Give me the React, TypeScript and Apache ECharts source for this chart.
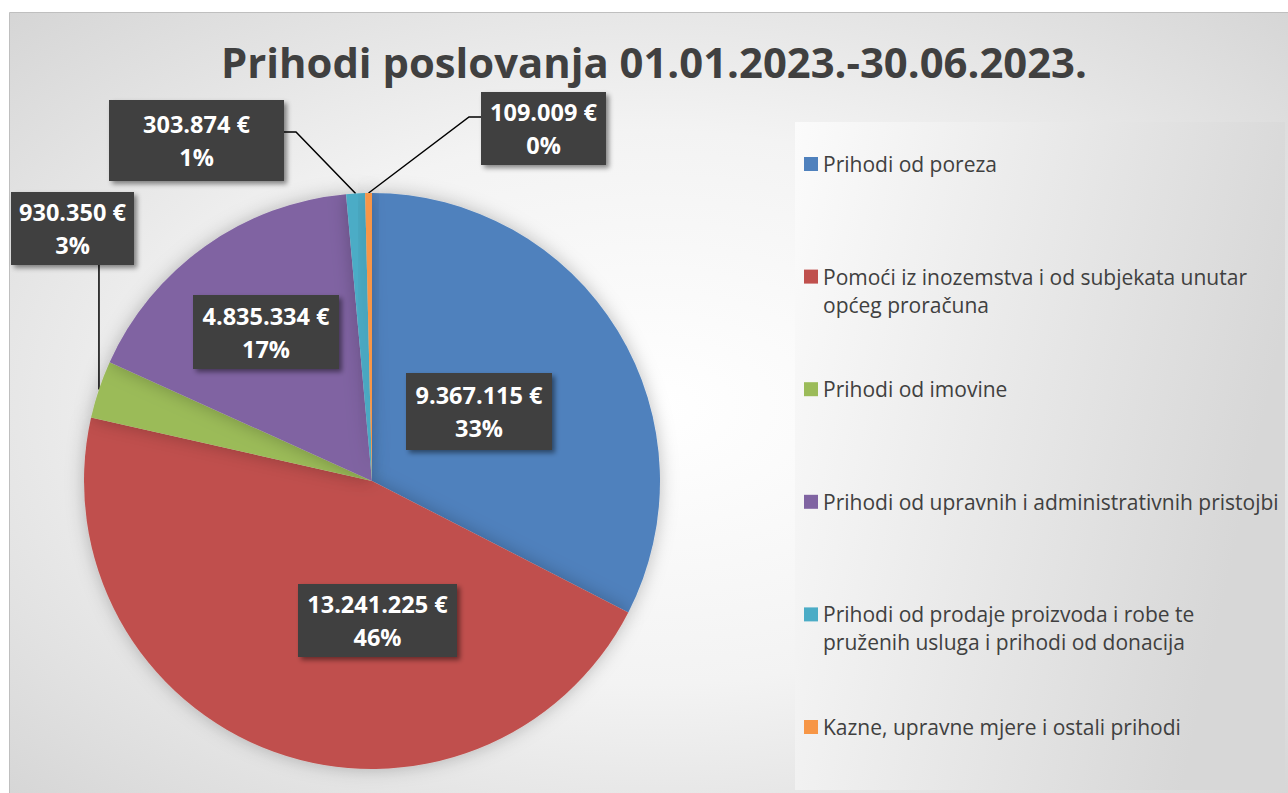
import React, { useEffect, useRef } from "react";
import * as echarts from "echarts";

const TITLE = "Prihodi poslovanja 01.01.2023.-30.06.2023.";

const categories = [
  "Prihodi od poreza",
  "Pomoći iz inozemstva i od subjekata unutar općeg proračuna",
  "Prihodi od imovine",
  "Prihodi od upravnih i administrativnih pristojbi",
  "Prihodi od prodaje proizvoda i robe te pruženih usluga i prihodi od donacija",
  "Kazne, upravne mjere i ostali prihodi",
];

const values = [9367115, 13241225, 930350, 4835334, 303874, 109009];

const colors = ["#4F81BD", "#C0504D", "#9BBB59", "#8064A2", "#4BACC6", "#F79646"];

// legend line breaks (as in the reference)
const legendLines: string[][] = [
  ["Prihodi od poreza"],
  ["Pomoći iz inozemstva i od subjekata unutar", "općeg proračuna"],
  ["Prihodi od imovine"],
  ["Prihodi od upravnih i administrativnih pristojbi"],
  ["Prihodi od prodaje proizvoda i robe te", "pruženih usluga i prihodi od donacija"],
  ["Kazne, upravne mjere i ostali prihodi"],
];

// label box layout: centre [x, y] and size [w, h]
const labelCenters: number[][] = [
  [479, 411.5],
  [377.5, 620.5],
  [72.5, 228.5],
  [266, 332],
  [196.5, 140.5],
  [543.5, 128.5],
];
const labelSizes: number[][] = [
  [146, 77],
  [159, 73],
  [123, 73],
  [146, 74],
  [175, 81],
  [125, 73],
];
const outsideIdx = [2, 4, 5];

const LABEL_LH = 33;

function fmtEuro(v: number) {
  return String(v).replace(/\B(?=(\d{3})+(?!\d))/g, ".") + " €";
}

export default function App() {
  const ref = useRef<HTMLDivElement>(null);

  useEffect(() => {
    document.body.style.margin = "0";
    if (!ref.current) return;
    const chart = echarts.init(ref.current, undefined, { renderer: "svg" });

    const data = categories.map((name, i) => {
      const outside = outsideIdx.includes(i);
      const [w, h] = labelSizes[i];
      const padV = (h - 2 * LABEL_LH) / 2;
      return {
        name,
        value: values[i],
        itemStyle: { color: colors[i] },
        label: {
          position: outside ? "outside" : "inside",
          width: w,
          overflow: "none",
          padding: [padV, 0, padV, 0],
        },
        labelLine: { show: outside },
      };
    });

    const option: any = {
      animation: false,
      backgroundColor: "transparent",
      graphic: [
        {
          type: "rect",
          z: -10,
          silent: true,
          shape: { x: 9.5, y: 12.5, width: 1290, height: 790 },
          style: {
            fill: new echarts.graphic.RadialGradient(0.5, 0.5, 1, [
              { offset: 0, color: "#ffffff" },
              { offset: 0.35, color: "#f3f3f3" },
              { offset: 1, color: "#bdbdbd" },
            ]),
            stroke: "#bfbfbf",
            lineWidth: 1,
          },
        },
        {
          type: "rect",
          z: -9,
          silent: true,
          shape: { x: 795, y: 122, width: 490, height: 668 },
          style: {
            fill: new echarts.graphic.LinearGradient(0, 0, 1, 0.3, [
              { offset: 0, color: "#fbfbfb" },
              { offset: 1, color: "#d7d7d7" },
            ]),
          },
        },
      ],
      title: {
        text: TITLE,
        left: 654,
        top: 40,
        padding: 0,
        textAlign: "center",
        textStyle: {
          fontFamily: "Open Sans",
          fontWeight: "bold",
          fontSize: 41.8,
          color: "#404040",
        },
      },
      legend: {
        orient: "vertical",
        left: 804,
        top: 122,
        padding: 0,
        itemWidth: 14,
        itemHeight: 14,
        itemGap: 28.6,
        icon: "rect",
        selectedMode: false,
        data: categories,
        formatter: (name: string) => {
          const lines = legendLines[categories.indexOf(name)] || [name];
          const arr = ["", ...lines];
          if (arr.length < 3) arr.push("");
          return arr.join("\n");
        },
        textStyle: {
          fontFamily: "Open Sans",
          fontSize: 21,
          color: "#404040",
          lineHeight: 28,
        },
      },
      series: [
        {
          type: "pie",
          center: [372, 481],
          radius: 288,
          startAngle: 90,
          clockwise: true,
          avoidLabelOverlap: false,
          itemStyle: {
            shadowBlur: 18,
            shadowColor: "rgba(0,0,0,0.25)",
          },
          label: {
            show: true,
            formatter: (p: any) => `${fmtEuro(p.value)}\n${Math.round(p.percent)}%`,
            color: "#ffffff",
            fontFamily: "Open Sans",
            fontWeight: "bold",
            fontSize: 23.5,
            lineHeight: LABEL_LH,
            backgroundColor: "#404040",
            align: "center",
            verticalAlign: "middle",
            shadowBlur: 5,
            shadowColor: "rgba(0,0,0,0.45)",
            shadowOffsetX: 3,
            shadowOffsetY: 3,
          },
          labelLine: {
            show: true,
            length: 10,
            length2: 10,
            lineStyle: { color: "#000000", width: 1.5 },
          },
          labelLayout: (params: any) => {
            const i = params.dataIndex;
            const [cx, cy] = labelCenters[i];
            const [w, h] = labelSizes[i];
            const res: any = { x: cx, y: cy, align: "center", verticalAlign: "middle" };
            const p0 = params.labelLinePoints && params.labelLinePoints[0];
            if (p0) {
              if (i === 2) {
                res.labelLinePoints = [p0, [p0[0], cy + h / 2 + 20], [p0[0], cy + h / 2]];
              } else if (i === 4) {
                res.labelLinePoints = [p0, [cx + w / 2 + 12, 132], [cx + w / 2, 132]];
              } else if (i === 5) {
                res.labelLinePoints = [p0, [cx - w / 2 - 12, 117], [cx - w / 2, 117]];
              }
            }
            return res;
          },
          data,
        },
      ],
    };

    chart.setOption(option);
    return () => chart.dispose();
  }, []);

  return <div ref={ref} style={{ width: 1288, height: 793, position: "absolute", left: 0, top: 0 }} />;
}
